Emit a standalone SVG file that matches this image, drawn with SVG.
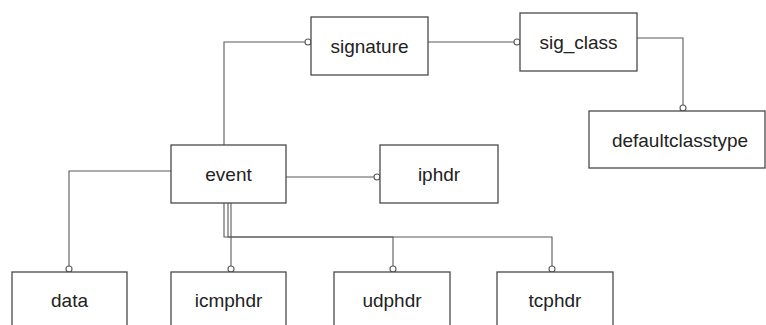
<svg xmlns="http://www.w3.org/2000/svg" width="766" height="325" viewBox="0 0 766 325">
  <defs>
    <style>
      .box { fill: #ffffff; stroke: #4a4a4a; stroke-width: 1.3; }
      .lbl { font-family: "Liberation Sans", Arial, sans-serif; font-size: 19px; fill: #222222; text-anchor: middle; }
      .wire { fill: none; stroke: #5a5a5a; stroke-width: 1.1; }
      .end { fill: #ffffff; stroke: #5a5a5a; stroke-width: 1.1; }
    </style>
  </defs>
  <rect width="766" height="325" fill="#ffffff"/>

  <!-- connectors -->
  <g id="connectors">
    <!-- event -> signature -->
    <polyline class="wire" points="224,145 224,42 308,42"/>
    <circle class="end" cx="308" cy="42" r="3"/>
    <!-- signature -> sig_class -->
    <line class="wire" x1="428" y1="42" x2="517" y2="42"/>
    <circle class="end" cx="517" cy="42" r="3"/>
    <!-- sig_class -> defaultclasstype -->
    <polyline class="wire" points="637,38 683,38 683,108"/>
    <circle class="end" cx="683" cy="108" r="3"/>
    <!-- event -> iphdr -->
    <line class="wire" x1="286" y1="177" x2="377" y2="177"/>
    <circle class="end" cx="377" cy="177" r="3"/>
    <!-- event -> data -->
    <polyline class="wire" points="171,171 69,171 69,269"/>
    <circle class="end" cx="69" cy="269" r="3"/>
    <!-- event -> icmphdr -->
    <line class="wire" x1="231" y1="203" x2="231" y2="269"/>
    <circle class="end" cx="231" cy="269" r="3"/>
    <!-- event -> udphdr -->
    <polyline class="wire" points="228,203 228,237 393,237 393,269"/>
    <circle class="end" cx="393" cy="269" r="3"/>
    <!-- event -> tcphdr -->
    <polyline class="wire" points="224,203 224,237 552,237 552,269"/>
    <circle class="end" cx="552" cy="269" r="3"/>
  </g>

  <g id="signature">
    <rect class="box" x="311" y="17" width="117" height="58"/>
    <text class="lbl" x="369.5" y="53">signature</text>
  </g>
  <g id="sig_class">
    <rect class="box" x="520" y="13" width="117" height="58"/>
    <text class="lbl" x="578.5" y="49">sig_class</text>
  </g>
  <g id="defaultclasstype">
    <rect class="box" x="589" y="111" width="176" height="57"/>
    <text class="lbl" x="680" y="146.5">defaultclasstype</text>
  </g>
  <g id="event">
    <rect class="box" x="171" y="145" width="115" height="58"/>
    <text class="lbl" x="228.5" y="181">event</text>
  </g>
  <g id="iphdr">
    <rect class="box" x="380" y="145" width="118" height="58"/>
    <text class="lbl" x="439" y="181">iphdr</text>
  </g>
  <g id="data">
    <rect class="box" x="12" y="272" width="115" height="58"/>
    <text class="lbl" x="69.5" y="307">data</text>
  </g>
  <g id="icmphdr">
    <rect class="box" x="171" y="272" width="115" height="58"/>
    <text class="lbl" x="228.5" y="307">icmphdr</text>
  </g>
  <g id="udphdr">
    <rect class="box" x="334" y="272" width="116" height="58"/>
    <text class="lbl" x="392" y="307">udphdr</text>
  </g>
  <g id="tcphdr">
    <rect class="box" x="497" y="272" width="116" height="58"/>
    <text class="lbl" x="555" y="307">tcphdr</text>
  </g>
</svg>
